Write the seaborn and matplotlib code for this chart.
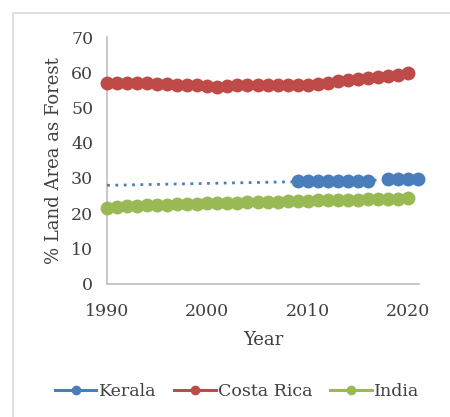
import numpy as np
import pandas as pd
import matplotlib
matplotlib.use('Agg')
import matplotlib.pyplot as plt
import seaborn as sns

years = list(range(1990, 2021))
costa_rica = [57.1, 57.0, 57.0, 57.1, 57.0, 56.8, 56.7, 56.4, 56.4, 56.3, 56.0, 55.9, 56.0,
              56.3, 56.3, 56.3, 56.3, 56.3, 56.3, 56.3, 56.4, 56.7, 57.0, 57.4, 57.9, 58.1,
              58.4, 58.7, 59.0, 59.3, 59.7]
india = [21.5, 21.7, 21.9, 22.0, 22.2, 22.3, 22.4, 22.5, 22.6, 22.7, 22.8, 22.9, 23.0,
         23.0, 23.1, 23.2, 23.2, 23.3, 23.4, 23.4, 23.5, 23.6, 23.6, 23.7, 23.8, 23.8,
         23.9, 24.0, 24.0, 24.1, 24.3]
kerala_years = [2009, 2010, 2011, 2012, 2013, 2014, 2015, 2016, 2017, 2018, 2019, 2020, 2021]
kerala = [29.2, 29.2, 29.2, 29.2, 29.2, 29.2, 29.2, 29.2, np.nan, 29.8, 29.8, 29.8, 29.8]
trend_years = [1990, 2021]
trend_vals = [27.9, 29.6]

blue = '#4a7ebb'
red = '#be4b48'
green = '#98b954'
txt = '#404040'

plt.rcParams['font.family'] = ['DejaVu Serif']
fig = plt.figure(figsize=(4.5, 4.17), dpi=100)
ax = fig.add_axes([0.238, 0.320, 0.693, 0.591])

# border around the chart like the excel frame
fig.patches.append(plt.Rectangle((12.5 / 450, -0.1), 1.2, 1 - 13 / 417 + 0.1,
                                 transform=fig.transFigure, fill=False,
                                 edgecolor='#d9d9d9', linewidth=1.2))

kdf = pd.DataFrame({'year': kerala_years, 'val': kerala})
kdf['seg'] = kdf['val'].isna().cumsum()
kdf = kdf.dropna()
sns.lineplot(x=trend_years, y=trend_vals, ax=ax, color=blue, linestyle=(0, (1, 2)),
             linewidth=2)
mk = dict(marker='o', markersize=10, markeredgewidth=0, linewidth=2.2, clip_on=False)
for i, (_, g) in enumerate(kdf.groupby('seg')):
    sns.lineplot(data=g, x='year', y='val', ax=ax, color=blue,
                 label='Kerala' if i == 0 else None, **mk)
sns.lineplot(x=years, y=costa_rica, ax=ax, color=red, label='Costa Rica', **mk)
sns.lineplot(x=years, y=india, ax=ax, color=green, label='India', **mk)

ax.set_xlim(1990, 2021.1)
ax.set_ylim(0, 70)
ax.set_xticks([1990, 2000, 2010, 2020])
ax.set_yticks(range(0, 71, 10))
for s in ['top', 'right']:
    ax.spines[s].set_visible(False)
for s in ['left', 'bottom']:
    ax.spines[s].set_color('#bfbfbf')
    ax.spines[s].set_linewidth(1.2)
    ax.spines[s].set_zorder(0)
ax.tick_params(length=0, labelsize=12.5, colors=txt, pad=10)
ax.tick_params(axis='x', pad=14)
ax.set_xlabel('Year', fontsize=13, color=txt, labelpad=8)
ax.set_ylabel('% Land Area as Forest', fontsize=13, color=txt, labelpad=6)

leg = ax.legend(loc='center', bbox_to_anchor=(0.527, 0.06), bbox_transform=fig.transFigure,
                ncol=3, frameon=False, fontsize=12.5, handlelength=2.4, columnspacing=1.0,
                handletextpad=0.15, labelcolor=txt)
for h in leg.legend_handles:
    h.set_markersize(7)

fig.savefig('out.png', dpi=100)
